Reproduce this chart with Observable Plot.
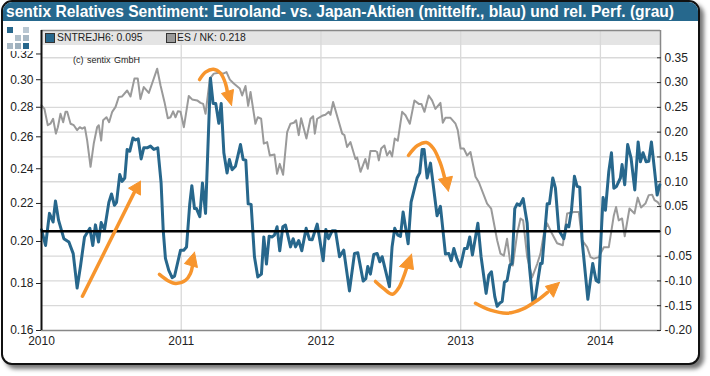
<!DOCTYPE html>
<html><head><meta charset="utf-8">
<script src="https://cdn.jsdelivr.net/npm/d3@7"></script>
<script src="https://cdn.jsdelivr.net/npm/@observablehq/plot@0.6"></script>
<style>
html,body{margin:0;padding:0;background:#fff}
#root{position:relative;width:710px;height:376px;overflow:hidden;font-family:"Liberation Sans",Arial,sans-serif;background:#fff}
#root svg{position:absolute;left:0;top:0}
#frame{position:absolute;left:1px;top:0;width:695px;height:361px;border:2px solid #111;border-radius:11px;box-shadow:4px 4px 4px #777;background:#fff;overflow:hidden}
#bar{position:absolute;left:0;top:0;right:0;height:19px;background:#26688d;color:#fff;font-weight:bold;font-size:15.6px;line-height:19px;padding-left:3px;white-space:nowrap}
#band{position:absolute;left:41px;top:31px;width:619px;height:14px;background:#e4e4e4}
.sq{position:absolute;width:6px;height:6px}
.leg{position:absolute;top:31px;font-size:10.4px;line-height:14px;color:#222;white-space:nowrap}
.sw{position:absolute;top:33px;width:8px;height:8px;border:1px solid #333}
#cr{position:absolute;left:73px;top:54px;font-size:9px;line-height:12px;color:#222;word-spacing:1px}
</style></head><body><div id="root">
<div id="frame"><div id="bar">sentix Relatives Sentiment: Euroland- vs. Japan-Aktien (mittelfr., blau) und rel. Perf. (grau)</div></div>
<div id="band"></div>
</div>
<script>
const yearTicks=[0,1,2,3,4];
const yearLabels=["2010","2011","2012","2013","2014"];
const leftTicks=[.16,.18,.20,.22,.24,.26,.28,.30,.32];
const rightTicks=[-.20,-.15,-.10,-.05,0,.05,.10,.15,.20,.25,.30,.35];
const blueSeries=[[0,.206],[.029,.198],[.057,.2146],[.083,.21],[.1,.2214],[.122,.211],[.16,.2014],[.196,.1997],[.227,.194],[.255,.178],[.279,.188],[.308,.2023],[.346,.2067],[.367,.198],[.386,.2085],[.408,.1997],[.427,.2097],[.451,.206],[.482,.2206],[.501,.2253],[.522,.219],[.537,.2206],[.56,.2365],[.577,.2325],[.596,.2345],[.613,.2519],[.632,.2508],[.654,.2592],[.673,.258],[.692,.2587],[.713,.246],[.732,.2529],[.756,.2529],[.78,.254],[.804,.2519],[.832,.2529],[.856,.2316],[.871,.2058],[.887,.1917],[.911,.186],[.935,.1827],[.952,.1833],[.995,.1957],[1.018,.1957],[1.038,.1973],[1.061,.2198],[1.076,.23],[1.095,.2172],[1.109,.2172],[1.133,.2128],[1.152,.2316],[1.174,.2146],[1.209,.3012],[1.228,.2827],[1.247,.2827],[1.269,.269],[1.286,.2827],[1.305,.2498],[1.328,.2375],[1.345,.2456],[1.364,.2394],[1.388,.2415],[1.424,.255],[1.443,.2456],[1.462,.2452],[1.479,.2198],[1.5,.2195],[1.524,.1925],[1.548,.183],[1.574,.1843],[1.591,.2023],[1.61,.189],[1.629,.2026],[1.651,.2023],[1.667,.2032],[1.686,.2075],[1.705,.1954],[1.727,.2075],[1.746,.2084],[1.782,.1973],[1.801,.2014],[1.818,.1973],[1.841,.2005],[1.863,.1954],[1.894,.2067],[1.918,.201],[1.937,.2009],[1.973,.2089],[2.016,.1906],[2.035,.2061],[2.054,.2014],[2.08,.2054],[2.104,.2054],[2.133,.1925],[2.163,.1957],[2.204,.1767],[2.24,.1941],[2.264,.1944],[2.302,.1811],[2.321,.1822],[2.335,.1878],[2.354,.1843],[2.378,.1936],[2.402,.1941],[2.421,.1901],[2.438,.1925],[2.49,.1786],[2.509,.1973],[2.528,.2067],[2.55,.2032],[2.569,.2026],[2.588,.2154],[2.624,.1989],[2.645,.2207],[2.688,.2345],[2.707,.2375],[2.724,.2519],[2.738,.2519],[2.76,.2345],[2.784,.2434],[2.831,.2133],[2.855,.2184],[2.891,.1938],[2.915,.1941],[2.932,.1906],[2.951,.1965],[2.974,.1913],[2.998,.1878],[3.027,.1965],[3.046,.1965],[3.065,.2023],[3.084,.1933],[3.123,.2093],[3.146,.1925],[3.182,.1756],[3.201,.1838],[3.22,.1854],[3.244,.1742],[3.261,.17],[3.28,.1714],[3.297,.1721],[3.313,.1806],[3.332,.1814],[3.352,.1886],[3.368,.1893],[3.387,.2172],[3.404,.2198],[3.423,.2189],[3.447,.2227],[3.476,.2093],[3.492,.1878],[3.516,.1721],[3.53,.1721],[3.571,.1893],[3.583,.1893],[3.619,.2198],[3.635,.2198],[3.659,.2345],[3.678,.2286],[3.702,.2058],[3.738,.2014],[3.757,.2084],[3.774,.2075],[3.793,.2163],[3.814,.2355],[3.833,.2296],[3.852,.2292],[3.869,.2005],[3.91,.173],[3.945,.1893],[3.969,.1814],[3.988,.1806],[4.019,.2233],[4.036,.2163],[4.06,.2384],[4.079,.2498],[4.096,.2286],[4.115,.2296],[4.143,.2345],[4.155,.2425],[4.174,.2306],[4.195,.255],[4.219,.2467],[4.246,.2276],[4.27,.2567],[4.286,.2442],[4.305,.2498],[4.327,.2442],[4.346,.2446],[4.365,.2567],[4.387,.2394],[4.406,.2247],[4.425,.2306]];
const greySeries=[[0,.254],[.021,.247],[.045,.214],[.064,.217],[.083,.227],[.103,.197],[.117,.21],[.136,.237],[.155,.22],[.172,.241],[.184,.241],[.208,.217],[.231,.214],[.255,.204],[.274,.21],[.291,.207],[.31,.21],[.327,.183],[.351,.13],[.374,.177],[.398,.21],[.41,.214],[.427,.183],[.441,.224],[.465,.23],[.484,.22],[.506,.241],[.53,.251],[.553,.271],[.577,.272],[.613,.284],[.637,.272],[.665,.308],[.689,.308],[.708,.267],[.732,.291],[.768,.279],[.828,.328],[.852,.294],[.88,.261],[.904,.228],[.923,.23],[.942,.242],[.959,.23],[.976,.242],[.995,.241],[1.019,.21],[1.054,.273],[1.078,.266],[1.114,.264],[1.138,.259],[1.157,.257],[1.174,.237],[1.205,.308],[1.233,.318],[1.269,.32],[1.3,.318],[1.324,.321],[1.348,.306],[1.376,.298],[1.419,.288],[1.436,.274],[1.46,.293],[1.479,.253],[1.496,.281],[1.531,.217],[1.548,.23],[1.572,.227],[1.591,.177],[1.615,.18],[1.634,.153],[1.667,.155],[1.686,.116],[1.705,.136],[1.729,.114],[1.758,.2],[1.782,.217],[1.806,.219],[1.822,.224],[1.841,.194],[1.858,.228],[1.896,.187],[1.925,.227],[1.944,.232],[1.956,.197],[1.973,.227],[2.008,.233],[2.032,.235],[2.056,.241],[2.068,.235],[2.087,.261],[2.152,.197],[2.168,.194],[2.187,.17],[2.211,.18],[2.247,.146],[2.259,.149],[2.283,.12],[2.318,.146],[2.335,.126],[2.354,.162],[2.39,.162],[2.402,.16],[2.414,.143],[2.431,.167],[2.454,.173],[2.473,.153],[2.493,.162],[2.509,.151],[2.528,.187],[2.55,.183],[2.581,.241],[2.605,.234],[2.636,.217],[2.669,.264],[2.7,.257],[2.719,.257],[2.741,.241],[2.771,.274],[2.795,.264],[2.819,.247],[2.855,.259],[2.872,.219],[2.891,.229],[2.927,.229],[2.963,.217],[2.979,.204],[2.999,.167],[3.022,.167],[3.046,.153],[3.07,.16],[3.106,.11],[3.13,.099],[3.189,.056],[3.218,.046],[3.261,-.018],[3.285,-.045],[3.309,-.049],[3.332,-.015],[3.356,-.066],[3.373,-.069],[3.404,-.005],[3.428,.026],[3.447,.022],[3.476,-.052],[3.511,-.093],[3.547,-.066],[3.571,-.045],[3.595,-.005],[3.619,.016],[3.654,-.005],[3.69,-.024],[3.731,-.028],[3.762,.036],[3.81,.039],[3.845,.039],[3.869,-.018],[3.905,-.032],[3.929,-.052],[3.953,-.055],[3.988,-.052],[4.024,-.032],[4.06,-.032],[4.096,.032],[4.112,.049],[4.131,.022],[4.155,.026],[4.174,-.01],[4.208,.046],[4.244,.036],[4.267,.068],[4.291,.048],[4.322,.056],[4.346,.073],[4.37,.074],[4.387,.063],[4.41,.059],[4.43,.051]];
const arrowStems=[
 [[.293,-.131],[.665,.079]],
 [[.844,-.087],[.902,-.099],[.959,-.105],[1.03,-.099],[1.066,-.085],[1.081,-.069]],
 [[1.131,.306],[1.174,.321],[1.231,.327],[1.281,.319],[1.317,.298],[1.331,.28]],
 [[2.39,-.101],[2.447,-.115],[2.512,-.127],[2.555,-.115],[2.59,-.093],[2.612,-.075]],
 [[2.626,.153],[2.691,.173],[2.755,.179],[2.805,.167],[2.855,.137],[2.884,.109]],
 [[3.106,-.145],[3.213,-.159],[3.335,-.165],[3.442,-.157],[3.549,-.139],[3.621,-.123]]
];
const arrowHeads=[
 [[.708,.101],[.623,.087],[.708,.073]],
 [[1.095,-.042],[1.023,-.065],[1.116,-.073]],
 [[1.36,.254],[1.288,.278],[1.374,.286]],
 [[2.648,-.046],[2.562,-.071],[2.662,-.077]],
 [[2.912,.081],[2.841,.105],[2.941,.111]],
 [[3.707,-.103],[3.606,-.111],[3.664,-.133]]
];
const xDomain=[0,4.43], blueCol="#27678c", greyCol="#9a9a9a", orange="#f7952d", gridCol="#d9d9d9";
const base={width:710,height:376,marginLeft:41,marginRight:50,marginTop:30,marginBottom:46,style:{background:"transparent",fontFamily:"'Liberation Sans',Arial,sans-serif",fontSize:"12px",color:"#222"}};
const X={domain:xDomain,label:null,axis:null};
const Yr={type:"linear",domain:[-.2,.405],label:null,axis:null};
const Yl={type:"log",domain:[.16,.3394],label:null,axis:null};
const root=document.getElementById("root");
const px=d=>d[0],py=d=>d[1];

// layer 1: grid, frame, grey series, right axis, x labels
root.appendChild(Plot.plot({...base,x:X,y:Yr,marks:[
 Plot.ruleY(rightTicks.slice(1),{stroke:gridCol,strokeWidth:1.3}),
 Plot.ruleX(yearTicks.slice(1),{stroke:gridCol,strokeWidth:1.3}),
 Plot.ruleY([-.2,.405],{stroke:"#888",strokeWidth:1.5}),
 Plot.ruleX([xDomain[1]],{stroke:"#888",strokeWidth:1.5}),
 Plot.line(greySeries,{x:px,y:py,stroke:greyCol,strokeWidth:2}),
 Plot.axisY({anchor:"right",ticks:rightTicks,tickSize:-4,tickPadding:8,tickFormat:v=>v===0?"0":v.toFixed(2),label:null,stroke:"#333"}),
 Plot.axisX({ticks:yearTicks,tickSize:0,tickPadding:6,tickFormat:(d,i)=>yearLabels[i],label:null})
]}));
// layer 2: blue series, left axis
root.appendChild(Plot.plot({...base,x:X,y:Yl,marks:[
 Plot.line(blueSeries,{x:px,y:py,stroke:blueCol,strokeWidth:3}),
 Plot.ruleX([0],{stroke:"#111",strokeWidth:2}),
 Plot.axisY({anchor:"left",ticks:leftTicks,tickSize:5,tickPadding:3,tickFormat:v=>v.toFixed(2),label:null})
]}));
// layer 3: zero line and arrows
root.appendChild(Plot.plot({...base,x:X,y:Yr,marks:[
 Plot.ruleY([0],{stroke:"#000",strokeWidth:2.5}),
 ...arrowStems.map(s=>Plot.line(s,{x:px,y:py,stroke:orange,strokeWidth:3.5,curve:s.length>2?"catmull-rom":"linear"})),
 ...arrowHeads.map(h=>Plot.line([...h,h[0]],{x:px,y:py,fill:orange,stroke:orange,strokeWidth:1}))
]}));

function el(cls,css,text){const d=document.createElement("div");if(cls)d.className=cls;Object.assign(d.style,css||{});if(text)d.textContent=text;root.appendChild(d);return d;}
el(null,{position:"absolute",left:"3px",top:"22px",width:"37px",height:"29px",background:"#fff"});
[[7,27,"#27678c"],[23,27,"#b9c7d2"],[15,35,"#b0bfca"],[23,35,"#a8b8c4"],[7,43,"#a8b8c4"],[15,43,"#9db0bd"],[23,43,"#27678c"]].forEach(([l,t,c])=>el("sq",{left:l+"px",top:t+"px",background:c}));
el("sw",{left:"45px",background:blueCol});
el("leg",{left:"57px"},"SNTREJH6: 0.095");
el("sw",{left:"166px",background:"#999"});
el("leg",{left:"177px"},"ES / NK: 0.218");
const c=el(null,{});c.id="cr";c.textContent="(c) sentix GmbH";
</script></body></html>
